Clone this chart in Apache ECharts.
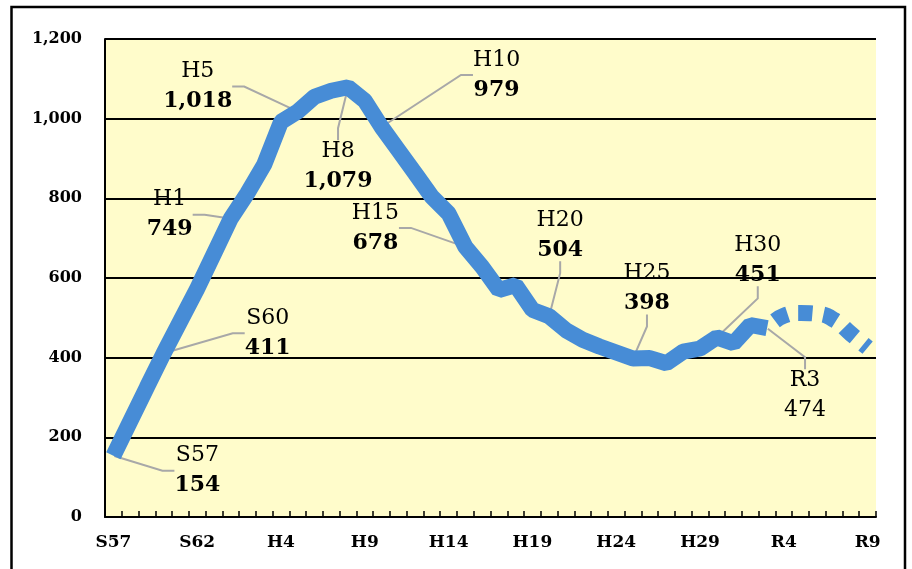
<!DOCTYPE html>
<html>
<head>
<meta charset="utf-8">
<title>chart</title>
<script src="https://cdn.jsdelivr.net/npm/echarts@6/dist/echarts.min.js"></script>
<style>
  html, body { margin: 0; padding: 0; background: #fff; }
  #chart { width: 912px; height: 569px; }
</style>
</head>
<body>
<div id="chart"></div>
<script>
// 年度 S57〜R9
var years = ['S57', 'S58', 'S59', 'S60', 'S61', 'S62', 'S63', 'H1', 'H2', 'H3',
  'H4', 'H5', 'H6', 'H7', 'H8', 'H9', 'H10', 'H11', 'H12', 'H13',
  'H14', 'H15', 'H16', 'H17', 'H18', 'H19', 'H20', 'H21', 'H22', 'H23',
  'H24', 'H25', 'H26', 'H27', 'H28', 'H29', 'H30', 'R1', 'R2', 'R3',
  'R4', 'R5', 'R6', 'R7', 'R8', 'R9']
// 実績 S57〜R3
var actual = [154, 240, 326, 411, 492, 573, 661, 749, 813, 885,
  992, 1018, 1055, 1070, 1079, 1045, 979, 921, 863, 804,
  762, 678, 628, 570, 582, 520, 504, 469, 445, 428,
  413, 398, 399, 386, 415, 423, 451, 436, 482, 474]
// 見通し（破線）
var outlookYears = ['R3', 'R4', 'R5', 'R6', 'R7', 'R8', 'R9']
var outlookValues = [474, 505, 512, 510, 495, 460, 425]
// 吹き出しのある年
var labelYears = ['S57', 'S60', 'H1', 'H5', 'H8', 'H10', 'H15', 'H20', 'H25', 'H30', 'R3']
var labelValues = [154, 411, 749, 1018, 1079, 979, 678, 504, 398, 451, 474]
var yTicks = [0, 200, 400, 600, 800, 1000, 1200]

// ラベル位置（点からのずれ px）
var labelOffsets = {
  S57: [84, 15], S60: [104, -20], H1: [-61, -4], H5: [-100, -25], H8: [-10, 79],
  H10: [115, -52], H15: [-90, -19], H20: [11, -81], H25: [14, -70], H30: [41, -77], R3: [38, 67]
}
var thinValue = ['R3']

var fmt = function(v) { return v.toLocaleString('en-US') }
var serif = 'DejaVu Serif'
var blue = '#478CD6'

var chart = echarts.init(document.getElementById('chart'))
chart.setOption({
  animation: false,
  textStyle: { fontFamily: serif },
  grid: {
    left: 105, right: 36, top: 39, bottom: 52,
    show: true, backgroundColor: '#FFFCCB', borderWidth: 0
  },
  graphic: [{
    type: 'rect',
    silent: true,
    z: 100,
    shape: { x: 11.5, y: 7, width: 893.5, height: 620 },
    style: { fill: 'none', stroke: '#000', lineWidth: 2.5 }
  }],
  xAxis: {
    type: 'category',
    data: years,
    boundaryGap: true,
    axisLine: { lineStyle: { color: '#000', width: 2 } },
    axisTick: { show: true, inside: true, length: 6, interval: 0, lineStyle: { color: '#000', width: 1.5 } },
    axisLabel: {
      interval: 4,
      margin: 17,
      color: '#000',
      fontFamily: serif,
      fontWeight: 'bold',
      fontSize: 17
    },
    splitLine: { show: false }
  },
  yAxis: {
    type: 'value',
    min: yTicks[0],
    max: yTicks[yTicks.length - 1],
    interval: 200,
    axisLine: { show: true, lineStyle: { color: '#000', width: 2 } },
    axisTick: { show: false },
    axisLabel: {
      margin: 23,
      color: '#000',
      fontFamily: serif,
      fontWeight: 'bold',
      fontSize: 16,
      formatter: fmt
    },
    splitLine: { lineStyle: { color: '#000', width: 2 } }
  },
  series: [
    {
      name: '実績',
      type: 'line',
      data: actual,
      symbol: 'none',
      silent: true,
      lineStyle: { color: blue, width: 16 }
    },
    {
      name: '見通し',
      type: 'line',
      data: outlookYears.map(function(y, i) { return [y, outlookValues[i]] }),
      symbol: 'none',
      silent: true,
      smooth: 0.5,
      lineStyle: { color: blue, width: 16, type: [14, 11], dashOffset: 14 }
    },
    {
      name: 'ラベル',
      type: 'scatter',
      data: labelYears.map(function(y, i) { return [y, labelValues[i]] }),
      symbolSize: 2,
      silent: true,
      itemStyle: { color: 'rgba(0,0,0,0)', opacity: 1 },
      label: {
        show: true,
        color: '#000',
        opacity: 1,
        padding: [2, 13],
        formatter: function(p) {
          var name = labelYears[p.dataIndex]
          var key = thinValue.indexOf(name) >= 0 ? 'w' : 'v'
          return '{n|' + name + '}\n{' + key + '|' + fmt(labelValues[p.dataIndex]) + '}'
        },
        rich: {
          n: { fontFamily: serif, fontSize: 22, color: '#000', lineHeight: 30, align: 'center' },
          v: { fontFamily: serif, fontSize: 22, fontWeight: 'bold', color: '#000', lineHeight: 30, align: 'center' },
          w: { fontFamily: serif, fontSize: 22, color: '#000', lineHeight: 30, align: 'center' }
        }
      },
      labelLine: {
        show: true,
        length2: 12,
        lineStyle: { color: '#A8A8A8', width: 2, opacity: 1 }
      },
      labelLayout: function(p) {
        var off = labelOffsets[labelYears[p.dataIndex]]
        return {
          x: p.rect.x + p.rect.width / 2 + off[0],
          y: p.rect.y + p.rect.height / 2 + off[1],
          align: 'center',
          verticalAlign: 'middle'
        }
      }
    }
  ]
})
</script>
</body>
</html>
